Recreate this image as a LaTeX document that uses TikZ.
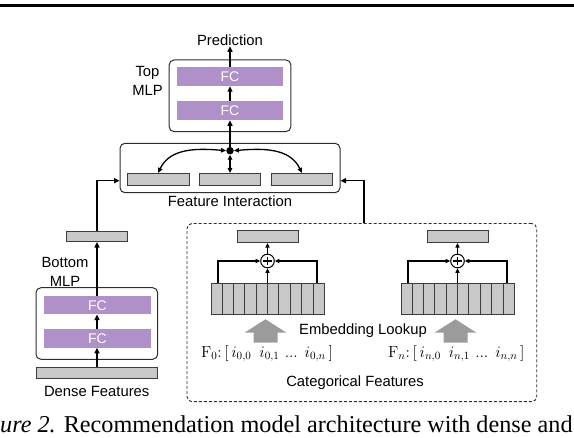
\documentclass[tikz,border=0pt]{standalone}
\usepackage{fontspec}
\newfontfamily\hv{Liberation Sans}
\newfontfamily\tms{Liberation Serif}
\usetikzlibrary{arrows.meta,calc}
\definecolor{fcpurple}{RGB}{176,144,200}
\definecolor{barg}{RGB}{200,200,200}
\definecolor{bard}{RGB}{60,60,60}
\definecolor{boxc}{RGB}{45,45,45}
\definecolor{blockg}{RGB}{155,155,155}
\begin{document}
\begin{tikzpicture}[x=1pt,y=1pt,
  box/.style={draw=boxc, line width=1pt, rounded corners=5pt, inner sep=0pt},
  dbox/.style={draw=boxc, line width=0.9pt, dashed, dash pattern=on 3pt off 2pt, rounded corners=5pt, inner sep=0pt},
  fcbar/.style={fill=fcpurple, draw=none, text=white, font=\hv\fontsize{14}{16}\selectfont, inner sep=0pt},
  gbar/.style={fill=barg, draw=bard, line width=0.8pt, inner sep=0pt},
  lbl/.style={font=\hv\fontsize{14.8}{19}\selectfont, inner sep=0pt},
  mth/.style={font=\fontsize{14.4}{18}\selectfont, inner sep=0pt},
  arr/.style={-{Triangle[length=5.5pt,width=5pt]}, line width=1.6pt},
  darr/.style={{Triangle[length=5pt,width=4.5pt]}-{Triangle[length=5pt,width=4.5pt]}, line width=1.3pt},
  sarr/.style={-{Triangle[length=4.5pt,width=4pt]}, line width=1.1pt}
]
\useasboundingbox (0,0) rectangle (574,-438);
% top rule
\fill[black] (0,-4.3) rectangle (574,-7.3);

% Top MLP
\node[box, minimum width=121.7, minimum height=71.7] (topmlp) at (230,-95.8) {};
\node[fcbar, minimum width=106.6, minimum height=18.7] (fc1) at (230,-76.7) {FC};
\node[fcbar, minimum width=106.6, minimum height=18.7] (fc2) at (230,-110.8) {FC};
\node[lbl] (pred) at (230,-40.7) {Prediction};
\node[lbl, align=center] (toplbl) at (147.5,-81) {Top\\MLP};
\draw[arr] (fc1.north) -- (pred.south);
\draw[arr] (fc2.north) -- (fc1.south);

% Feature interaction
\node[box, minimum width=220, minimum height=49.4] (fi) at (230,-168) {};
\node[circle, fill=black, inner sep=0pt, minimum size=7.5] (dot) at (230,-150.7) {};
\node[gbar, minimum width=61.5, minimum height=12.4] (b1) at (158.2,-179.5) {};
\node[gbar, minimum width=61.5, minimum height=12.4] (b2) at (230,-179.5) {};
\node[gbar, minimum width=61.5, minimum height=12.4] (b3) at (301.8,-179.5) {};
\node[lbl] (filbl) at (230,-201.7) {Feature Interaction};
\draw[arr] (dot.north) -- (fc2.south);
\draw[darr] (dot.west) to[out=175,in=65] (b1.north);
\draw[darr] (dot.east) to[out=5,in=115] (b3.north);
\draw[darr] (dot.south) -- (b2.north);

% Bottom MLP
\node[gbar, minimum width=60.6, minimum height=10.7] (botbar) at (97,-236.3) {};
\node[box, minimum width=121.7, minimum height=71.6] (botmlp) at (96.85,-323.5) {};
\node[fcbar, minimum width=106.7, minimum height=18.3] (fc3) at (97.35,-305.2) {FC};
\node[fcbar, minimum width=106.7, minimum height=18.3] (fc4) at (97.35,-338.5) {FC};
\node[gbar, minimum width=121.7, minimum height=10.6] (dense) at (96.85,-373) {};
\node[lbl] (denselbl) at (96.7,-391) {Dense Features};
\node[lbl, align=center] (botlbl) at (65,-271.7) {Bottom\\MLP};
\draw[arr] (dense.north -| botbar.south) -- (fc4.south -| botbar.south);
\draw[arr] (fc4.north -| botbar.south) -- (fc3.south -| botbar.south);
\draw[arr] (fc3.north -| botbar.south) -- (botbar.south);
\coordinate (lj) at (97,-180.7);
\draw[arr] (botbar.north) |- (fi.west |- lj);

% Categorical features
\node[dbox, minimum width=349.7, minimum height=178.2] (cat) at (361.85,-312.6) {};
\coordinate (rj) at (364,-180.7);
\draw[arr] (cat.north -| rj) |- (fi.east |- rj);

\foreach \g/\cx in {L/267.5,R/457.5}{
  \node[gbar, minimum width=61, minimum height=12] (out\g) at (\cx,-236.7) {};
  \node[circle, draw=black, line width=1pt, minimum size=13.6, inner sep=0pt] (sum\g) at (\cx,-261) {};
  \draw[line width=1.2pt] ($(sum\g.center)+(-4.4,0)$) -- ($(sum\g.center)+(4.4,0)$);
  \draw[line width=1.2pt] ($(sum\g.center)+(0,-4.4)$) -- ($(sum\g.center)+(0,4.4)$);
  \node[gbar, minimum width=113, minimum height=30.7] (tab\g) at (\cx,-298.7) {};
  \foreach \i in {1,...,9}{
    \draw[bard, line width=0.8pt] ($(tab\g.north west)!\i/10!(tab\g.north east)$) -- ($(tab\g.south west)!\i/10!(tab\g.south east)$);
  }
  \draw[sarr] (tab\g.north) -- (sum\g.south);
  \draw[sarr] ($(tab\g.north)+(-49.5,0)$) |- (sum\g.west);
  \draw[sarr] ($(tab\g.north)+(49.5,0)$) |- (sum\g.east);
  \draw[sarr] (sum\g.north) -- (out\g.south);
  \fill[blockg] (\cx-2,-319.3) -- (\cx+19,-332.7) -- (\cx+10,-332.7) -- (\cx+10,-342.7)
     -- (\cx-14,-342.7) -- (\cx-14,-332.7) -- (\cx-23,-332.7) -- cycle;
}
\node[lbl] (emblbl) at (363,-331) {Embedding Lookup};
\node[mth] (f0) at (267,-353.3) {\scalebox{1.11}{$\mathrm{F}_0$:\,[\,$i_{0,0}$\enspace$i_{0,1}$ ... $i_{0,n}$\,]}};
\node[mth] (fn) at (456.4,-353.3) {\scalebox{1.11}{$\mathrm{F}_n$:\,[\,$i_{n,0}$\enspace$i_{n,1}$ ... $i_{n,n}$\,]}};
\node[lbl] (catlbl) at (355,-382.3) {Categorical Features};

% caption
\node[anchor=base west, inner sep=0pt, font=\tms\fontsize{24.2}{28}\selectfont] (cap) at (0,-433) {\textit{ure 2.} Recommendation model architecture with dense and};
\end{tikzpicture}
\end{document}
